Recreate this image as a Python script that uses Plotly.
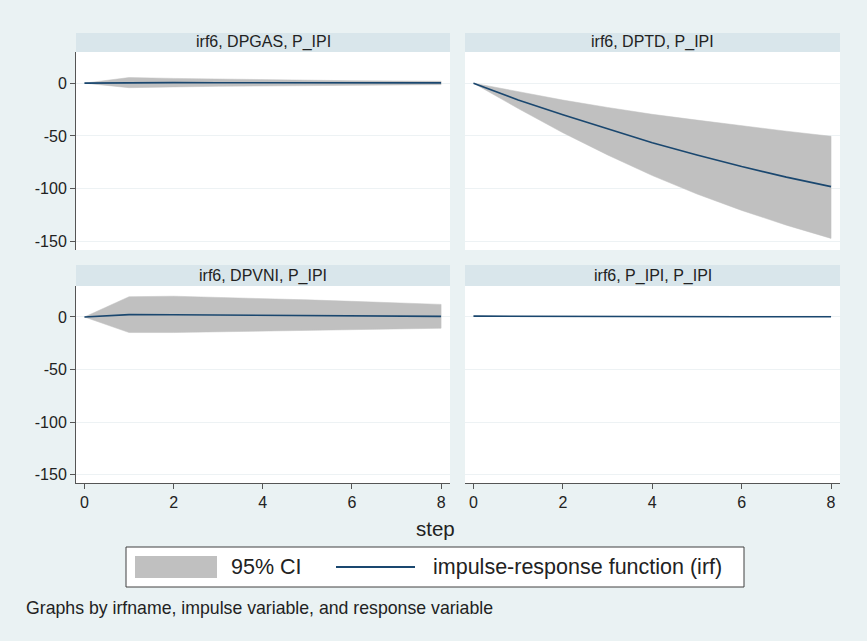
import plotly.graph_objects as go

# ---------------- data ----------------
steps = [0, 1, 2, 3, 4, 5, 6, 7, 8]
panel_titles = ["irf6, DPGAS, P_IPI", "irf6, DPTD, P_IPI",
                "irf6, DPVNI, P_IPI", "irf6, P_IPI, P_IPI"]

irf_dpgas = [0, 0.5, 0.5, 0.4, 0.4, 0.3, 0.3, 0.3, 0.3]
lo_dpgas = [0, -4.3, -3.6, -3.0, -2.5, -2.1, -1.8, -1.6, -1.4]
hi_dpgas = [0, 5.3, 4.5, 3.8, 3.2, 2.7, 2.3, 2.0, 1.8]

irf_dptd = [0, -16, -30, -43.5, -56.5, -68, -79, -89, -98]
lo_dptd = [0, -24, -47, -68, -87.5, -105, -120.5, -134.5, -147]
hi_dptd = [0, -8, -16, -23, -29.5, -35, -40.5, -45.5, -50.3]

irf_dpvni = [0, 2.3, 2.1, 1.8, 1.5, 1.2, 1.0, 0.8, 0.6]
lo_dpvni = [0, -14.8, -14.8, -14.2, -13.5, -12.8, -12.1, -11.4, -10.7]
hi_dpvni = [0, 19.3, 19.8, 18.8, 17.6, 16.3, 14.9, 13.5, 12.0]

irf_pipi = [0.8, 0.6, 0.5, 0.45, 0.4, 0.35, 0.3, 0.3, 0.25]
lo_pipi = [0.8, 0.3, 0.2, 0.15, 0.1, 0.05, 0.0, 0.0, -0.05]
hi_pipi = [0.8, 0.9, 0.8, 0.75, 0.7, 0.65, 0.6, 0.6, 0.55]

y_ticks = [0, -50, -100, -150]
y_tick_labels = ["0", "-50", "-100", "-150"]
x_ticks = [0, 2, 4, 6, 8]
x_tick_labels = ["0", "2", "4", "6", "8"]

legend_labels = ["95% CI", "impulse-response function (irf)"]
x_title = "step"
note_text = "Graphs by irfname, impulse variable, and response variable"

# ---------------- style ----------------
W, H = 867, 641
BG = "#eaf2f3"
STRIP = "#d9e6eb"
CI_COLOR = "#c0c0c0"
LINE_COLOR = "#1a476f"
AXIS_COLOR = "#555555"
FONT = "Liberation Sans, Arial, sans-serif"
TXT = "#222222"

def px(x):
    return x / W

def py(y):
    return 1 - y / H

X_L = [px(76), px(450)]
X_R = [px(465), px(840)]
Y_T = [py(250), py(52)]
Y_B = [py(483), py(286)]
XR = [-0.19, 8.2]
YR = [-158, 29.5]

panels = [
    (irf_dpgas, lo_dpgas, hi_dpgas, "x", "y"),
    (irf_dptd, lo_dptd, hi_dptd, "x2", "y2"),
    (irf_dpvni, lo_dpvni, hi_dpvni, "x3", "y3"),
    (irf_pipi, lo_pipi, hi_pipi, "x4", "y4"),
]

fig = go.Figure()
for irf, lo, hi, xa, ya in panels:
    fig.add_trace(go.Scatter(
        x=steps + steps[::-1], y=hi + lo[::-1], fill="toself",
        fillcolor=CI_COLOR, line=dict(width=0.5, color=CI_COLOR),
        mode="lines", xaxis=xa, yaxis=ya, showlegend=False, hoverinfo="skip"))
    fig.add_trace(go.Scatter(
        x=steps, y=irf, mode="lines", line=dict(color=LINE_COLOR, width=1.6),
        xaxis=xa, yaxis=ya, showlegend=False))

tickfont = dict(family=FONT, size=16, color=TXT)

def xaxis(domain, anchor, show):
    return dict(domain=domain, anchor=anchor, range=XR, showgrid=False, zeroline=False,
                tickvals=x_ticks, ticktext=x_tick_labels, showticklabels=show,
                ticks="outside" if show else "", ticklen=5, tickcolor=AXIS_COLOR,
                showline=show, linecolor=AXIS_COLOR, linewidth=1, tickfont=tickfont,
                fixedrange=True)

def yaxis(domain, anchor, show):
    return dict(domain=domain, anchor=anchor, range=YR, showgrid=True, gridcolor="#edf2f4",
                gridwidth=1, zeroline=False, tickvals=y_ticks, ticktext=y_tick_labels,
                showticklabels=show, ticks="outside" if show else "", ticklen=5,
                tickcolor=AXIS_COLOR, showline=show, linecolor=AXIS_COLOR, linewidth=1,
                tickfont=tickfont, fixedrange=True)

fig.update_layout(
    width=W, height=H, margin=dict(l=0, r=0, t=0, b=0),
    paper_bgcolor=BG, plot_bgcolor="white", showlegend=False,
    font=dict(family=FONT, color=TXT),
    xaxis=xaxis(X_L, "y", False), yaxis=yaxis(Y_T, "x", True),
    xaxis2=xaxis(X_R, "y2", False), yaxis2=yaxis(Y_T, "x2", False),
    xaxis3=xaxis(X_L, "y3", True), yaxis3=yaxis(Y_B, "x3", True),
    xaxis4=xaxis(X_R, "y4", True), yaxis4=yaxis(Y_B, "x4", False),
)

shapes = []
annotations = []
strips = [
    (X_L, [py(52), py(33)]), (X_R, [py(52), py(33)]),
    (X_L, [py(286), py(265)]), (X_R, [py(286), py(265)]),
]
for (xd, yd), title in zip(strips, panel_titles):
    shapes.append(dict(type="rect", xref="paper", yref="paper", x0=xd[0], x1=xd[1],
                       y0=yd[0], y1=yd[1], fillcolor=STRIP, line=dict(width=0), layer="below"))
    annotations.append(dict(text=title, xref="paper", yref="paper", x=(xd[0] + xd[1]) / 2,
                            y=(yd[0] + yd[1]) / 2, showarrow=False, xanchor="center",
                            yanchor="middle", font=dict(family=FONT, size=16, color=TXT)))

# x title
annotations.append(dict(text=x_title, xref="paper", yref="paper", x=px(435), y=py(528),
                        showarrow=False, xanchor="center", yanchor="middle",
                        font=dict(family=FONT, size=20.5, color=TXT)))

# legend box
shapes.append(dict(type="rect", xref="paper", yref="paper", x0=px(126), x1=px(744),
                   y0=py(587), y1=py(547), fillcolor="white",
                   line=dict(color="#404040", width=1)))
shapes.append(dict(type="rect", xref="paper", yref="paper", x0=px(135), x1=px(217),
                   y0=py(578), y1=py(556), fillcolor=CI_COLOR, line=dict(width=0)))
shapes.append(dict(type="line", xref="paper", yref="paper", x0=px(336), x1=px(415),
                   y0=py(567), y1=py(567), line=dict(color=LINE_COLOR, width=2)))
annotations.append(dict(text=legend_labels[0], xref="paper", yref="paper", x=px(229),
                        y=py(567), showarrow=False, xanchor="left", yanchor="middle",
                        font=dict(family=FONT, size=21.5, color=TXT)))
annotations.append(dict(text=legend_labels[1], xref="paper", yref="paper", x=px(431),
                        y=py(567), showarrow=False, xanchor="left", yanchor="middle",
                        font=dict(family=FONT, size=21.5, color=TXT)))

# note
annotations.append(dict(text=note_text, xref="paper", yref="paper", x=px(24), y=py(608),
                        showarrow=False, xanchor="left", yanchor="middle",
                        font=dict(family=FONT, size=17.7, color=TXT)))

fig.update_layout(shapes=shapes, annotations=annotations)
fig.write_html("out.html", config={"displayModeBar": False},
               post_script="document.body.style.margin='0';document.body.style.padding='0';")
